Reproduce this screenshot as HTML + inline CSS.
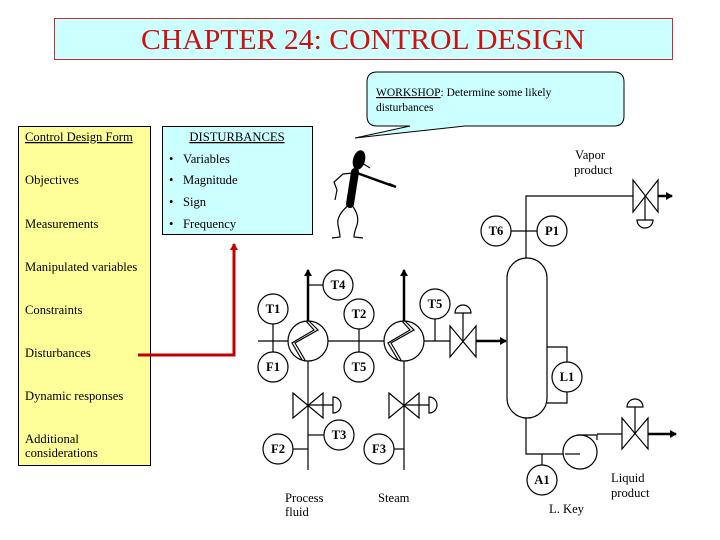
<!DOCTYPE html>
<html><head><meta charset="utf-8"><style>
html,body{margin:0;padding:0;background:#fff;}
svg{display:block;}
text{font-family:"Liberation Serif",serif;font-size:12.6px;fill:#000;}
.c{fill:#fff;stroke:#000;stroke-width:1.2}
.l{stroke:#000;stroke-width:1.2;fill:none}
.b{font-weight:bold;font-size:12px}
</style></head><body>
<svg width="720" height="540" viewBox="0 0 720 540" xmlns="http://www.w3.org/2000/svg">
<defs><marker id="ar" markerWidth="8" markerHeight="8" refX="6" refY="4" orient="auto" markerUnits="userSpaceOnUse"><path d="M0,0 L7,4 L0,8z" fill="#000"/></marker>
<marker id="rr" markerWidth="8" markerHeight="8" refX="6" refY="4" orient="auto" markerUnits="userSpaceOnUse"><path d="M0,0 L7,4 L0,8z" fill="#c00000"/></marker></defs>
<!-- title -->
<rect x="54.5" y="18.5" width="618" height="41" fill="#ccffff" stroke="#c03030" stroke-width="1"/>
<text x="363" y="49" text-anchor="middle" textLength="444" lengthAdjust="spacingAndGlyphs" style="font-size:28px;fill:#d01010">CHAPTER 24: CONTROL DESIGN</text>
<!-- callout -->
<path d="M377,72 H614 Q624,72 624,82 V116 Q624,126 614,126 H465 L355,138 L410,126 H377 Q367,126 367,116 V82 Q367,72 377,72Z" fill="#ccffff" stroke="#000" stroke-width="1"/>
<text x="376" y="96" style="font-size:11.5px"><tspan text-decoration="underline">WORKSHOP</tspan>: Determine some likely</text>
<text x="376" y="111" style="font-size:11.5px">disturbances</text>
<!-- yellow box -->
<rect x="18.5" y="126.5" width="132" height="339" fill="#ffff99" stroke="#000" stroke-width="1"/>
<text x="25" y="141" text-decoration="underline">Control Design Form</text>
<text x="25" y="184">Objectives</text>
<text x="25" y="228">Measurements</text>
<text x="25" y="271">Manipulated variables</text>
<text x="25" y="314">Constraints</text>
<text x="25" y="357">Disturbances</text>
<text x="25" y="400">Dynamic responses</text>
<text x="25" y="443">Additional</text>
<text x="25" y="457">considerations</text>
<!-- cyan box -->
<rect x="162.5" y="126.5" width="150" height="108" fill="#ccffff" stroke="#000" stroke-width="1"/>
<text x="237" y="141" text-anchor="middle" text-decoration="underline">DISTURBANCES</text>
<text x="169" y="163">•</text><text x="183" y="163">Variables</text>
<text x="169" y="184">•</text><text x="183" y="184">Magnitude</text>
<text x="169" y="206">•</text><text x="183" y="206">Sign</text>
<text x="169" y="228">•</text><text x="183" y="228">Frequency</text>
<!-- red arrow -->
<path d="M138,355 H234 V244" stroke="#c00000" stroke-width="3" fill="none" marker-end="url(#rr)"/>
<!-- stick figure -->
<ellipse cx="359" cy="160" rx="6" ry="10" fill="#000" transform="rotate(15 359 160)"/>
<path d="M362,163 L370,168" class="l" stroke-width="2"/>
<path d="M355,172 L350,204" stroke="#000" stroke-width="8" stroke-linecap="round"/>
<path d="M357,173 L393,186 M389,184 L396,187" stroke="#000" stroke-width="2.5" fill="none"/>
<path d="M353,173 L343,174 L334,182 L337,190 L335,200" class="l" stroke-width="2"/>
<path d="M350,204 Q336,215 338,225 Q340,234 340,237 L332,238 M351,204 Q360,215 357,225 Q354,233 354,237 L363,238" class="l" stroke-width="2"/>
<!-- main line -->
<line x1="258" y1="341" x2="288" y2="341" class="l"/>
<line x1="328" y1="341" x2="384" y2="341" class="l"/>
<line x1="424" y1="341" x2="450" y2="341" class="l"/>
<line x1="476" y1="341" x2="506" y2="341" stroke="#000" stroke-width="2.5" marker-end="url(#ar)"/>
<!-- instrument ties -->
<line x1="273" y1="324" x2="273" y2="352" class="l"/>
<line x1="359" y1="329" x2="359" y2="352" class="l"/>
<line x1="435" y1="319" x2="435" y2="341" class="l"/>
<!-- HX arrows -->
<line x1="308" y1="321" x2="308" y2="270" stroke="#000" stroke-width="2.5" marker-end="url(#ar)"/>
<line x1="404" y1="321" x2="404" y2="270" stroke="#000" stroke-width="2.5" marker-end="url(#ar)"/>
<line x1="308" y1="285" x2="323" y2="285" class="l"/>
<!-- HX -->
<circle cx="308" cy="341" r="20" class="c"/>
<path d="M309,321 L318,330 L295,343 L305,360 M306,321 L314,330 L292,343 L302,360" class="l" stroke-width="1"/>
<circle cx="404" cy="341" r="20" class="c"/>
<path d="M405,321 L414,330 L391,343 L401,360 M402,321 L410,330 L388,343 L398,360" class="l" stroke-width="1"/>
<!-- vertical feeds -->
<line x1="308" y1="361" x2="308" y2="470" class="l"/>
<line x1="404" y1="361" x2="404" y2="470" class="l"/>
<path d="M293,393 L323,418 L323,393 L293,418Z" class="c"/>
<path d="M389,393 L419,418 L419,393 L389,418Z" class="c"/>
<line x1="308" y1="405" x2="333" y2="405" class="l"/>
<line x1="404" y1="405" x2="429" y2="405" class="l"/>
<path d="M333,397 A8,8 0 0 1 333,413Z" class="c"/>
<path d="M429,397 A8,8 0 0 1 429,413Z" class="c"/>
<line x1="308" y1="435" x2="324" y2="435" class="l"/>
<line x1="293" y1="449" x2="308" y2="449" class="l"/>
<line x1="394" y1="449" x2="404" y2="449" class="l"/>
<!-- valve to vessel -->
<path d="M450,326 L476,357 L476,326 L450,357Z" class="c"/>
<line x1="463" y1="341" x2="463" y2="313" class="l"/>
<path d="M455,313 A8,8 0 0 1 471,313Z" class="c"/>
<!-- vessel -->
<path d="M507,278 A20,20 0 0 1 547,278 V398 A20,20 0 0 1 507,398Z" class="c"/>
<!-- top line -->
<path d="M526,258 V196 H633" class="l"/>
<line x1="511" y1="231" x2="537" y2="231" class="l"/>
<path d="M633,180 L658,212 L658,180 L633,212Z" class="c"/>
<line x1="658" y1="196" x2="672" y2="196" stroke="#000" stroke-width="2.5" marker-end="url(#ar)"/>
<line x1="645" y1="196" x2="645" y2="220" class="l"/>
<path d="M637,220 A8,8 0 0 0 653,220Z" class="c"/>
<!-- L1 bracket -->
<path d="M547,347 H567 V362 M567,392 V403 H547" class="l"/>
<!-- bottom -->
<path d="M526,418 V454 H580" class="l"/>
<line x1="542" y1="454" x2="542" y2="465" class="l"/>
<circle cx="580" cy="452" r="17" class="c"/>
<line x1="565" y1="454" x2="580" y2="454" class="l"/>
<path d="M577,435 H597 V440 M597,434 H622" class="l"/>
<path d="M622,418 L648,449 L648,418 L622,449Z" class="c"/>
<line x1="635" y1="434" x2="635" y2="407" class="l"/>
<path d="M627,407 A8,8 0 0 1 643,407Z" class="c"/>
<line x1="648" y1="434" x2="676" y2="434" stroke="#000" stroke-width="2.5" marker-end="url(#ar)"/>
<!-- instrument circles -->
<g class="b">
<circle cx="273" cy="309" r="15" class="c"/><text x="273" y="313" text-anchor="middle">T1</text>
<circle cx="273" cy="367" r="15" class="c"/><text x="273" y="371" text-anchor="middle">F1</text>
<circle cx="338" cy="285" r="15" class="c"/><text x="338" y="289" text-anchor="middle">T4</text>
<circle cx="359" cy="314" r="15" class="c"/><text x="359" y="318" text-anchor="middle">T2</text>
<circle cx="359" cy="367" r="15" class="c"/><text x="359" y="371" text-anchor="middle">T5</text>
<circle cx="435" cy="304" r="15" class="c"/><text x="435" y="308" text-anchor="middle">T5</text>
<circle cx="496" cy="231" r="15" class="c"/><text x="496" y="235" text-anchor="middle">T6</text>
<circle cx="552" cy="231" r="15" class="c"/><text x="552" y="235" text-anchor="middle">P1</text>
<circle cx="567" cy="377" r="15" class="c"/><text x="567" y="381" text-anchor="middle">L1</text>
<circle cx="542" cy="480" r="15" class="c"/><text x="542" y="484" text-anchor="middle">A1</text>
<circle cx="278" cy="449" r="15" class="c"/><text x="278" y="453" text-anchor="middle">F2</text>
<circle cx="339" cy="435" r="15" class="c"/><text x="339" y="439" text-anchor="middle">T3</text>
<circle cx="379" cy="449" r="15" class="c"/><text x="379" y="453" text-anchor="middle">F3</text>
</g>
<text x="575" y="159">Vapor</text>
<text x="574" y="174">product</text>
<text x="611" y="482">Liquid</text>
<text x="611" y="497">product</text>
<text x="549" y="513">L. Key</text>
<text x="285" y="502">Process</text>
<text x="285" y="516">fluid</text>
<text x="378" y="502">Steam</text>
</svg>
</body></html>
